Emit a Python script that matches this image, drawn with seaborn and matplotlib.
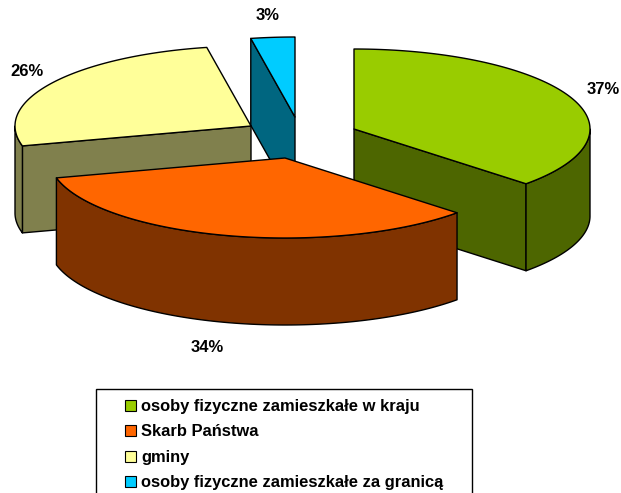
import numpy as np
import seaborn as sns
from matplotlib import pyplot as plt
from matplotlib.patches import Rectangle

# data
labels = ["osoby fizyczne zamieszkałe w kraju", "Skarb Państwa", "gminy",
          "osoby fizyczne zamieszkałe za granicą"]
values = [37, 34, 26, 3]
colors = ["#99CC00", "#FF6600", "#FFFF99", "#00CCFF"]
dark_colors = ["#4D6600", "#803300", "#80804D", "#006680"]

# apex of each exploded slice and where its label goes (pixels)
apex = [(354, 129), (285, 158), (251, 126), (295, 117)]
label_pos = [(603, 90), (207, 347), (27, 72), (268, 16)]
legend_y = [405, 430, 456, 481]

rx, ry, depth = 236, 80, 87

sns.set_style("white")
plt.rcParams['font.family'] = ['Liberation Sans', 'DejaVu Sans']

fig = plt.figure(figsize=(6.21, 4.93), dpi=100)
ax = fig.add_axes([0, 0, 1, 1])
ax.set_xlim(0, 621)
ax.set_ylim(493, 0)
ax.axis("off")


def arc(cx, cy, a1, a2):
    t = np.radians(np.linspace(a1, a2, 120))
    return cx + rx * np.sin(t), cy - ry * np.cos(t)


def face(xs, ys, color, z):
    ax.fill(xs, ys, facecolor=color, edgecolor="black", linewidth=1.0, zorder=z,
            joinstyle="round")


# slices go clockwise from 12 o'clock, back ones first
ends = np.cumsum(values) / sum(values) * 360
starts = np.r_[0, ends[:-1]]
for z, i in enumerate([3, 2, 0, 1]):
    cx, cy = apex[i]
    base = z * 10
    # cut faces, only the ones turned towards the viewer
    if np.sin(np.radians(starts[i])) < 0:
        x, y = arc(cx, cy, starts[i], starts[i])
        face([cx, x[0], x[0], cx], [cy, y[0], y[0] + depth, cy + depth], dark_colors[i], base)
    if np.sin(np.radians(ends[i])) > 1e-6:
        x, y = arc(cx, cy, ends[i], ends[i])
        face([cx, x[0], x[0], cx], [cy, y[0], y[0] + depth, cy + depth], dark_colors[i], base + 1)
    # outer rim, front half only
    a1, a2 = max(starts[i], 90), min(ends[i], 270)
    if a2 > a1:
        x, y = arc(cx, cy, a1, a2)
        face(np.r_[x, x[::-1]], np.r_[y, y[::-1] + depth], dark_colors[i], base + 2)
    # top
    x, y = arc(cx, cy, starts[i], ends[i])
    face(np.r_[cx, x], np.r_[cy, y], colors[i], base + 3)

for v, (lx, ly) in zip(values, label_pos):
    ax.text(lx, ly, f"{v}%", ha="center", va="center", fontsize=12,
            fontweight="bold", color="black", zorder=60)

# legend box runs past the bottom edge of the picture
ax.add_patch(Rectangle((96, 389), 376, 120, facecolor="white", edgecolor="black",
                       linewidth=1.0, zorder=50))
for name, c, ly in zip(labels, colors, legend_y):
    ax.add_patch(Rectangle((125, ly - 5.5), 11, 11, facecolor=c, edgecolor="black",
                           linewidth=0.8, zorder=51))
    ax.text(141, ly + 1.5, name, ha="left", va="center", fontsize=11.9,
            fontweight="bold", color="black", zorder=52)

fig.savefig("out.png", dpi=100, facecolor="white")
